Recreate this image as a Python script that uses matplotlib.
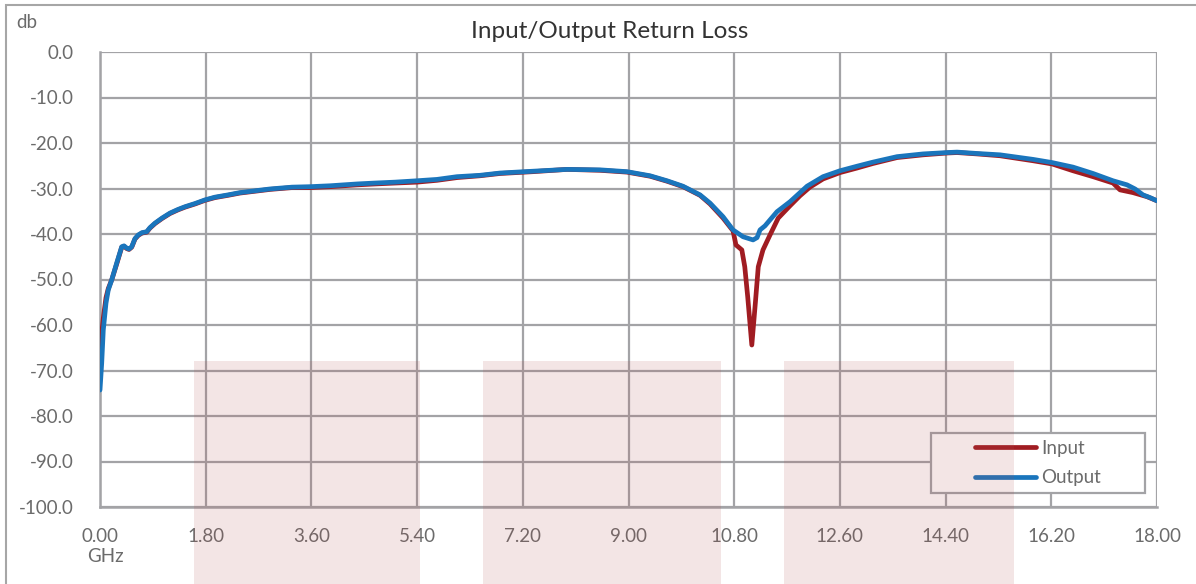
import matplotlib
matplotlib.use("Agg")
import matplotlib.pyplot as plt
from matplotlib.patches import Rectangle
from matplotlib.lines import Line2D

# ---- data ----
out_freq = [0.000, 0.029, 0.056, 0.102, 0.141, 0.199, 0.284, 0.370, 0.409, 0.455,
            0.494, 0.540, 0.596, 0.652, 0.715, 0.795, 0.851, 0.937, 1.056, 1.192,
            1.328, 1.448, 1.618, 1.788, 1.958, 2.180, 2.384, 2.640, 2.895, 3.270,
            3.576, 3.917, 4.377, 4.683, 5.024, 5.399, 5.739, 6.080, 6.471, 6.812,
            7.374, 7.953, 8.515, 8.975, 9.367, 9.656, 9.928, 10.218, 10.388, 10.610,
            10.780, 10.950, 11.121, 11.189, 11.240, 11.325, 11.410, 11.529, 11.751, 12.040,
            12.313, 12.602, 12.892, 13.164, 13.573, 14.016, 14.424, 14.595, 14.935, 15.327,
            15.889, 16.213, 16.570, 16.911, 17.251, 17.490, 17.626, 17.762, 17.881, 18.000]
out_db = [-74.3, -68.4, -61.1, -55.2, -52.3, -50.1, -46.4, -42.8, -42.6, -43.1,
          -43.3, -42.8, -41.0, -40.2, -39.7, -39.5, -38.6, -37.6, -36.5, -35.4,
          -34.6, -34.0, -33.3, -32.5, -31.9, -31.4, -30.9, -30.5, -30.1, -29.7,
          -29.6, -29.4, -29.0, -28.8, -28.6, -28.3, -28.0, -27.4, -27.1, -26.6,
          -26.2, -25.8, -25.9, -26.3, -27.2, -28.3, -29.5, -31.4, -33.2, -36.2,
          -39.1, -40.6, -41.3, -40.8, -39.1, -38.2, -36.9, -35.1, -32.9, -29.5,
          -27.4, -26.1, -25.1, -24.2, -23.0, -22.4, -22.1, -22.0, -22.3, -22.6,
          -23.6, -24.3, -25.3, -26.7, -28.3, -29.2, -30.1, -31.4, -32.0, -32.7]

in_freq = [0.000, 0.029, 0.056, 0.102, 0.141, 0.199, 0.284, 0.370, 0.409, 0.455,
           0.494, 0.540, 0.596, 0.652, 0.715, 0.795, 0.851, 0.937, 1.056, 1.192,
           1.328, 1.448, 1.618, 1.788, 1.958, 2.180, 2.384, 2.640, 2.895, 3.270,
           3.576, 3.917, 4.377, 4.683, 5.024, 5.399, 5.739, 6.080, 6.471, 6.812,
           7.374, 7.953, 8.515, 8.975, 9.367, 9.656, 9.928, 10.218, 10.388, 10.610,
           10.780, 10.830, 10.930, 10.980, 11.030, 11.100, 11.160, 11.210, 11.290, 11.410,
           11.550, 11.750, 11.920, 12.090, 12.313, 12.602, 12.892, 13.164, 13.573, 14.016,
           14.424, 14.595, 14.935, 15.327, 15.889, 16.213, 16.570, 16.911, 17.251, 17.370,
           17.590, 17.830, 18.000]
in_db = [-66.0, -62.0, -58.5, -54.0, -52.0, -50.1, -46.6, -42.9, -42.7, -43.2,
         -43.4, -42.9, -41.1, -40.3, -39.8, -39.6, -38.7, -37.7, -36.6, -35.5,
         -34.7, -34.1, -33.4, -32.6, -32.0, -31.5, -31.0, -30.6, -30.2, -29.8,
         -29.8, -29.6, -29.2, -29.0, -28.8, -28.6, -28.2, -27.6, -27.2, -26.7,
         -26.3, -25.8, -26.0, -26.4, -27.3, -28.4, -29.6, -31.5, -33.4, -36.5,
         -39.3, -42.4, -43.5, -47.2, -53.8, -64.4, -55.2, -47.2, -43.5, -40.2,
         -36.5, -33.8, -31.6, -29.7, -27.9, -26.5, -25.5, -24.5, -23.2, -22.6,
         -22.2, -22.1, -22.4, -22.8, -23.9, -24.6, -26.1, -27.4, -28.8, -30.3,
         -30.9, -31.8, -32.7]

x_ticks = [0.00, 1.80, 3.60, 5.40, 7.20, 9.00, 10.80, 12.60, 14.40, 16.20, 18.00]
y_ticks = [0.0, -10.0, -20.0, -30.0, -40.0, -50.0, -60.0, -70.0, -80.0, -90.0, -100.0]

title = "Input/Output Return Loss"
series_names = ["Input", "Output"]

# ---- styling ----
plt.rcParams['font.family'] = ['Lato', 'DejaVu Sans']
TXT = '#6b6b6b'
GRID = '#a3a3a6'
RED = '#a01c22'
BLUE = '#1a75bc'
LW = 3.4

W, H = 1196, 584
fig = plt.figure(figsize=(W / 100, H / 100), dpi=100)
ax = fig.add_axes([100 / W, (H - 507) / H, 1057 / W, 455 / H])

ax.plot(in_freq, in_db, color=RED, lw=LW, solid_capstyle='round', solid_joinstyle='round', zorder=3)
ax.plot(out_freq, out_db, color=BLUE, lw=LW, solid_capstyle='round', solid_joinstyle='round', zorder=4)

ax.set_xlim(0, 18)
ax.set_ylim(-100, 0)
ax.set_xticks(x_ticks)
ax.set_yticks(y_ticks)
ax.set_xticklabels([f"{v:.2f}" for v in x_ticks])
ax.set_yticklabels([f"{abs(v):.1f}" if v == 0 else f"{v:.1f}" for v in y_ticks])
ax.tick_params(length=0, labelsize=13.5, colors=TXT)
ax.tick_params(axis='x', pad=15)
ax.tick_params(axis='y', pad=19)
ax.grid(True, color=GRID, lw=1.6)
ax.set_axisbelow(True)
for s in ['top', 'right']:
    ax.spines[s].set_visible(False)
for s in ['left', 'bottom']:
    ax.spines[s].set_color(GRID)
    ax.spines[s].set_linewidth(1.8)

fig.text(610 / W, 1 - 31 / H, title, ha='center', va='center', fontsize=17.5, color='#333333')
fig.text(16 / W, 1 - 23 / H, "db", ha='left', va='center', fontsize=13.5, color=TXT)
fig.text(105 / W, 1 - 556 / H, "GHz", ha='center', va='center', fontsize=13.5, color=TXT)

# legend box
box = Rectangle((0.786, 0.0308), 0.2024, 0.1318, transform=ax.transAxes,
                facecolor='white', edgecolor=GRID, lw=1.6, zorder=5)
ax.add_patch(box)
handles = [Line2D([], [], color=RED, lw=LW, solid_capstyle='round'),
           Line2D([], [], color=BLUE, lw=LW, solid_capstyle='round')]
leg = ax.legend(handles, series_names, loc='center', bbox_to_anchor=(0.8872, 0.0967),
                frameon=False, fontsize=13.5, handlelength=3.3, handletextpad=0.25,
                labelspacing=0.68, labelcolor=TXT)
leg.set_zorder(6)

# figure border
fig.add_artist(Rectangle((6 / W, -0.05), 1.2, 1 - 5 / H + 0.05, transform=fig.transFigure,
                         facecolor='none', edgecolor='#a6a6a6', lw=1.5, zorder=0))

# pink watermark blocks
for x0, x1 in [(194, 420), (483, 721), (784, 1014)]:
    fig.add_artist(Rectangle((x0 / W, 0), (x1 - x0) / W, (H - 361) / H,
                             transform=fig.transFigure, facecolor=(0.69, 0.32, 0.32),
                             alpha=0.15, edgecolor='none', zorder=10))

fig.savefig("out.png", dpi=100)
